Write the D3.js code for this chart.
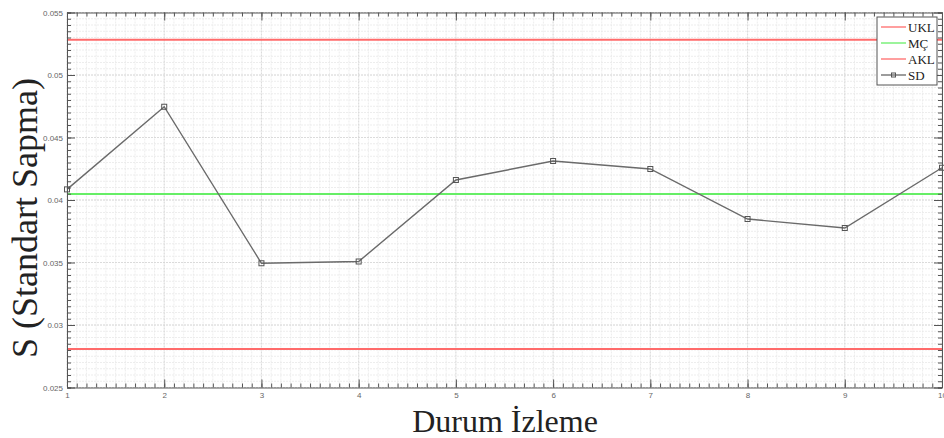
<!DOCTYPE html>
<html>
<head>
<meta charset="utf-8">
<script src="https://d3js.org/d3.v7.min.js"></script>
<style>
  body { margin: 0; background: #fff; }
  svg { display: block; }
  .serif { font-family: "Liberation Serif", "Times New Roman", serif; }
</style>
</head>
<body>
<svg id="chart" width="944" height="438"></svg>
<script>
// Durum izleme – S kontrol grafiği
var samples = [1, 2, 3, 4, 5, 6, 7, 8, 9, 10];
var sdValues = [0.04085, 0.04746, 0.03494, 0.03508, 0.0416, 0.04312, 0.04248, 0.03848, 0.03776, 0.04258];
var ukl = 0.05282;
var mc = 0.04048;
var akl = 0.02808;
var yTicks = [0.025, 0.03, 0.035, 0.04, 0.045, 0.05, 0.055];
var yTickLabels = ["0.025", "0.03", "0.035", "0.04", "0.045", "0.05", "0.055"];
var legendNames = ["UKL", "MÇ", "AKL", "SD"];

var svg = d3.select("#chart");
var m = {left: 67, top: 12.5, right: 942, bottom: 387.5};

var x = d3.scaleLinear().domain([1, 10]).range([m.left, m.right]);
var y = d3.scaleLinear().domain([0.025, 0.055]).range([m.bottom, m.top]);

// grid (minor + major)
var xMinor = d3.range(1, 10.001, 0.1);
var yMinor = d3.range(0.025, 0.05501, 0.0005);
var grid = svg.append("g");
grid.selectAll("line.xm").data(xMinor).enter().append("line")
    .attr("x1", function(d){ return x(d); }).attr("x2", function(d){ return x(d); })
    .attr("y1", m.top).attr("y2", m.bottom)
    .attr("stroke", "#e8e8e8").attr("stroke-width", 0.8).attr("stroke-dasharray", "2,1");
grid.selectAll("line.ym").data(yMinor).enter().append("line")
    .attr("y1", function(d){ return y(d); }).attr("y2", function(d){ return y(d); })
    .attr("x1", m.left).attr("x2", m.right)
    .attr("stroke", "#e8e8e8").attr("stroke-width", 0.8).attr("stroke-dasharray", "2,1");
grid.selectAll("line.xM").data(samples).enter().append("line")
    .attr("x1", function(d){ return x(d); }).attr("x2", function(d){ return x(d); })
    .attr("y1", m.top).attr("y2", m.bottom)
    .attr("stroke", "#d6d6d6").attr("stroke-width", 0.8).attr("stroke-dasharray", "2,1");
grid.selectAll("line.yM").data(yTicks).enter().append("line")
    .attr("y1", function(d){ return y(d); }).attr("y2", function(d){ return y(d); })
    .attr("x1", m.left).attr("x2", m.right)
    .attr("stroke", "#d6d6d6").attr("stroke-width", 0.8).attr("stroke-dasharray", "2,1");

// control limits
var limits = [ukl, mc, akl];
var limitColors = ["#ff6b6b", "#66ee66", "#ff6b6b"];
svg.selectAll("line.limit").data(limits).enter().append("line")
    .attr("x1", m.left).attr("x2", m.right)
    .attr("y1", function(d){ return y(d); }).attr("y2", function(d){ return y(d); })
    .attr("stroke", function(d, i){ return limitColors[i]; })
    .attr("stroke-width", 1.8);

// SD series
var line = d3.line().x(function(d, i){ return x(samples[i]); }).y(function(d){ return y(d); });
svg.append("path").datum(sdValues)
    .attr("d", line).attr("fill", "none")
    .attr("stroke", "#6a6a6a").attr("stroke-width", 1.4);
svg.selectAll("rect.pt").data(sdValues).enter().append("rect")
    .attr("x", function(d, i){ return x(samples[i]) - 2.5; })
    .attr("y", function(d){ return y(d) - 2.5; })
    .attr("width", 5).attr("height", 5)
    .attr("fill", "none").attr("stroke", "#555").attr("stroke-width", 1);

// axes box + ticks (inward)
var axisColor = "#555";
var axL = d3.axisLeft(y).tickValues(yMinor).tickSize(-4).tickFormat("");
var axR = d3.axisRight(y).tickValues(yMinor).tickSize(-4).tickFormat("");
var axT = d3.axisTop(x).tickValues(xMinor).tickSize(-4).tickFormat("");
var axB = d3.axisBottom(x).tickValues(xMinor).tickSize(-4).tickFormat("");
[[axL, "translate(" + m.left + ",0)"], [axR, "translate(" + m.right + ",0)"],
 [axT, "translate(0," + m.top + ")"], [axB, "translate(0," + m.bottom + ")"]].forEach(function(a){
    var g = svg.append("g").attr("transform", a[1]).call(a[0]);
    g.selectAll("line").attr("stroke", axisColor);
    g.select(".domain").attr("stroke", axisColor);
});
var majL = svg.append("g").attr("transform", "translate(" + m.left + ",0)")
    .call(d3.axisLeft(y).tickValues(yTicks).tickSize(-8).tickPadding(12)
        .tickFormat(function(d, i){ return yTickLabels[i]; }));
var majR = svg.append("g").attr("transform", "translate(" + m.right + ",0)")
    .call(d3.axisRight(y).tickValues(yTicks).tickSize(-8).tickFormat(""));
var majT = svg.append("g").attr("transform", "translate(0," + m.top + ")")
    .call(d3.axisTop(x).tickValues(samples).tickSize(-8).tickFormat(""));
var majB = svg.append("g").attr("transform", "translate(0," + m.bottom + ")")
    .call(d3.axisBottom(x).tickValues(samples).tickSize(-8).tickPadding(4).tickFormat(d3.format("d")));
[majL, majR, majT, majB].forEach(function(g){
    g.selectAll("line").attr("stroke", axisColor);
    g.select(".domain").remove();
    g.selectAll("text").attr("fill", "#666").attr("font-family", "Liberation Sans, Arial, sans-serif").attr("font-size", 8);
});
majL.selectAll("text").attr("x", -4);
majB.selectAll("text").attr("y", 5);

// axis titles
svg.append("text").attr("class", "serif")
    .attr("transform", "translate(37,218) rotate(-90)")
    .attr("text-anchor", "middle")
    .attr("font-size", 36).attr("fill", "#222")
    .text("S (Standart Sapma)");
svg.append("text").attr("class", "serif")
    .attr("x", 505).attr("y", 432)
    .attr("text-anchor", "middle")
    .attr("font-size", 32).attr("fill", "#222")
    .text("Durum İzleme");

// legend
var legColors = ["#ff6b6b", "#66ee66", "#ff6b6b", "#666"];
var leg = svg.append("g").attr("transform", "translate(877,17)");
leg.append("rect").attr("width", 60).attr("height", 68)
    .attr("fill", "#fff").attr("stroke", "#555").attr("stroke-width", 1);
var items = leg.selectAll("g.item").data(legendNames).enter().append("g")
    .attr("transform", function(d, i){ return "translate(0," + (10 + i * 16) + ")"; });
items.append("line").attr("x1", 4).attr("x2", 29).attr("y1", 0).attr("y2", 0)
    .attr("stroke", function(d, i){ return legColors[i]; }).attr("stroke-width", 1.3);
items.filter(function(d){ return d === "SD"; }).append("rect")
    .attr("x", 14.5).attr("y", -2).attr("width", 4).attr("height", 4)
    .attr("fill", "none").attr("stroke", "#555");
items.append("text").attr("class", "serif").attr("x", 31).attr("y", 4.5)
    .attr("font-size", 13).attr("fill", "#222")
    .text(function(d){ return d; });
</script>
</body>
</html>
